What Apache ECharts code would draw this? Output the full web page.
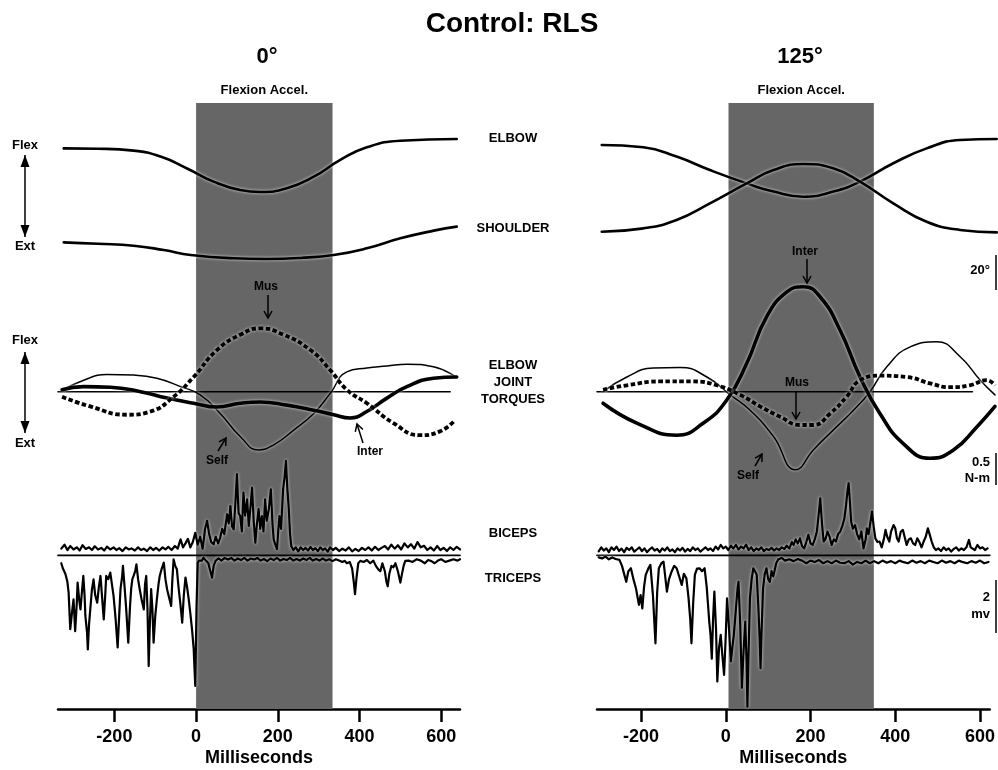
<!DOCTYPE html>
<html>
<head>
<meta charset="utf-8">
<title>Control: RLS</title>
<script src="https://cdn.jsdelivr.net/npm/echarts@6.0.0/dist/echarts.min.js"></script>
<style>
  html, body { margin: 0; padding: 0; background: #fff; }
  #chart { width: 998px; height: 770px; }
</style>
</head>
<body>
<div id="chart"></div>
<script>
// time in ms, angles in deg, torques in N-m, emg in mV
var tickValues = [-200, 0, 200, 400, 600];
var shadeLeft = [0, 334];
var shadeRight = [0, 336];

// 0 deg panel
var leftElbow = [[-324, 69.5], [-240, 69.3], [-153, 68.2], [-87, 64.8], [-22, 58], [43, 50.5], [108, 45.7], [157, 44.6],
  [222, 46.7], [288, 53.3], [353, 62.9], [418, 70.1], [500, 73.9], [638, 74.9]];
var leftShoulder = [[-324, 15.8], [-240, 15], [-153, 13.9], [-79, 11.4], [-13, 8.6], [92, 6.7], [173, 6.3], [255, 6.9],
  [337, 8.6], [418, 12.4], [500, 18.1], [582, 22.5], [638, 24.8]];
var leftMus = [[-328, -0.08], [-259, -0.23], [-169, -0.36], [-112, -0.31], [-55, -0.08], [-6, 0.23], [51, 0.65],
  [108, 0.89], [157, 0.99], [214, 0.89], [280, 0.65], [328, 0.34], [369, 0.03], [418, -0.18], [483, -0.49],
  [548, -0.68], [597, -0.62], [630, -0.47]];
var leftSelf = [[-328, 0.02], [-275, 0.18], [-218, 0.27], [-153, 0.26], [-96, 0.21], [-38, 0.08], [10, -0.05],
  [59, -0.34], [108, -0.7], [153, -0.91], [190, -0.83], [239, -0.6], [288, -0.34], [328, -0.03], [369, 0.31],
  [418, 0.37], [467, 0.4], [516, 0.43], [581, 0.39], [638, 0.22]];
var leftInter = [[-328, 0.03], [-275, 0.08], [-210, 0.07], [-136, 0], [-71, -0.1], [-6, -0.18], [51, -0.24],
  [108, -0.18], [157, -0.16], [222, -0.21], [288, -0.29], [337, -0.36], [377, -0.41], [418, -0.31],
  [467, -0.1], [516, 0.08], [581, 0.21], [638, 0.23]];
var leftBiceps = [[-330, 0.25], [-322, 0.4], [-315, 0.2], [-308, 0.35], [-300, 0.22], [-292, 0.3], [-285, 0.18],
  [-278, 0.38], [-270, 0.24], [-262, 0.3], [-255, 0.2], [-248, 0.34], [-240, 0.22], [-232, 0.28], [-225, 0.18],
  [-218, 0.33], [-210, 0.22], [-202, 0.3], [-195, 0.2], [-188, 0.27], [-180, 0.16], [-172, 0.3], [-165, 0.22],
  [-158, 0.26], [-150, 0.18], [-142, 0.3], [-135, 0.2], [-128, 0.25], [-120, 0.16], [-112, 0.3], [-105, 0.2],
  [-98, 0.28], [-90, 0.18], [-82, 0.3], [-75, 0.22], [-68, 0.32], [-60, 0.2], [-52, 0.35], [-45, 0.25],
  [-38, 0.6], [-32, 0.3], [-26, 0.45], [-20, 0.62], [-14, 0.3], [-8, 0.5], [-2, 0.85], [4, 0.4], [10, 0.7],
  [16, 0.25], [22, 1.0], [27, 1.3], [32, 0.8], [37, 0.5], [43, 0.42], [48, 0.7], [54, 0.45], [59, 0.67],
  [64, 1.0], [69, 0.8], [76, 1.55], [80, 1.2], [84, 1.86], [88, 1.1], [92, 0.98], [96, 1.9], [100, 3.06],
  [104, 1.6], [108, 1.48], [112, 0.9], [116, 2.37], [120, 1.5], [125, 2.11], [129, 1.11], [133, 1.8],
  [137, 2.55], [141, 1.3], [145, 0.48], [149, 1.2], [153, 1.74], [157, 1.0], [161, 1.48], [165, 0.9],
  [169, 2.11], [173, 1.3], [178, 1.74], [183, 2.49], [187, 1.2], [190, 0.6], [194, 0.4], [198, 0.23],
  [201, 0.9], [204, 1.48], [208, 1.0], [213, 2.49], [217, 3.0], [220, 3.56], [223, 2.6], [227, 1.74],
  [230, 0.8], [233, 0.35], [238, 0.2], [244, 0.3], [250, 0.15], [256, 0.3], [262, 0.2], [268, 0.28],
  [274, 0.18], [280, 0.32], [286, 0.2], [292, 0.27], [298, 0.16], [304, 0.3], [310, 0.2], [316, 0.26],
  [322, 0.14], [328, 0.3], [335, 0.2], [342, 0.28], [350, 0.16], [358, 0.25], [366, 0.18], [374, 0.3],
  [382, 0.15], [390, 0.24], [398, 0.16], [406, 0.28], [414, 0.2], [422, 0.3], [430, 0.18], [438, 0.32],
  [446, 0.2], [454, 0.28], [462, 0.35], [470, 0.22], [478, 0.4], [486, 0.25], [494, 0.38], [502, 0.22],
  [510, 0.45], [518, 0.3], [526, 0.42], [534, 0.25], [542, 0.5], [550, 0.3], [558, 0.36], [566, 0.2],
  [574, 0.3], [582, 0.18], [590, 0.35], [598, 0.2], [606, 0.28], [614, 0.16], [622, 0.3], [630, 0.2],
  [638, 0.32], [646, 0.22]];
var leftTriceps = [[-330, -0.3], [-326, -0.5], [-320, -0.7], [-315, -1.0], [-312, -1.41], [-308, -2.79],
  [-304, -2.2], [-300, -1.66], [-296, -2.86], [-292, -1.8], [-290, -1.03], [-286, -1.7], [-283, -2.04],
  [-279, -1.3], [-276, -0.78], [-273, -1.5], [-271, -2.29], [-267, -2.9], [-265, -3.55], [-262, -2.6],
  [-259, -2.04], [-255, -1.3], [-251, -0.91], [-247, -1.5], [-242, -1.79], [-238, -1.2], [-234, -0.78],
  [-230, -1.6], [-226, -2.42], [-222, -1.4], [-220, -0.78], [-215, -0.9], [-210, -0.65], [-206, -1.1],
  [-202, -1.53], [-197, -2.4], [-192, -3.48], [-188, -2.2], [-185, -1.28], [-181, -0.8], [-179, -0.4],
  [-175, -1.2], [-171, -2.04], [-168, -2.8], [-166, -3.3], [-162, -2.0], [-159, -1.28], [-156, -0.9],
  [-153, -0.78], [-149, -0.6], [-146, -0.34], [-142, -0.9], [-138, -1.28], [-133, -1.7], [-128, -2.04],
  [-125, -1.1], [-122, -0.78], [-119, -2.0], [-116, -4.18], [-113, -2.5], [-110, -1.28], [-107, -2.0],
  [-104, -3.3], [-100, -2.3], [-96, -1.66], [-92, -1.1], [-89, -0.78], [-84, -0.5], [-79, -0.28], [-75, -0.9],
  [-71, -1.28], [-66, -1.6], [-61, -1.91], [-58, -0.9], [-55, -0.15], [-51, -0.4], [-47, -0.53], [-43, -1.2],
  [-38, -1.9], [-34, -2.54], [-30, -1.5], [-26, -0.84], [-22, -1.2], [-18, -1.66], [-14, -2.2], [-10, -2.79],
  [-6, -3.5], [-2, -4.93], [1, -2.0], [4, -0.28], [7, -0.2], [10, -0.15], [14, -0.2], [18, -0.09], [24, -0.2],
  [30, -0.3], [35, -0.6], [39, -0.84], [43, -0.4], [48, -0.2], [55, -0.12], [62, -0.2], [70, -0.1], [78, -0.16],
  [86, -0.1], [94, -0.2], [102, -0.12], [110, -0.18], [118, -0.1], [126, -0.2], [134, -0.12], [142, -0.16],
  [150, -0.1], [158, -0.2], [166, -0.14], [174, -0.22], [182, -0.12], [190, -0.18], [198, -0.1], [206, -0.2],
  [214, -0.14], [222, -0.18], [230, -0.1], [238, -0.2], [246, -0.14], [254, -0.2], [262, -0.12], [270, -0.18],
  [278, -0.1], [286, -0.2], [294, -0.14], [302, -0.2], [310, -0.12], [318, -0.2], [326, -0.15], [334, -0.22],
  [342, -0.15], [350, -0.2], [358, -0.25], [364, -0.21], [369, -0.3], [376, -0.25], [382, -0.5], [386, -1.0],
  [389, -1.47], [393, -0.8], [397, -0.3], [402, -0.21], [410, -0.25], [418, -0.18], [426, -0.3], [434, -0.2],
  [440, -0.4], [446, -0.53], [451, -0.6], [456, -0.3], [462, -0.6], [466, -1.0], [469, -1.17], [473, -0.7],
  [478, -0.4], [483, -0.45], [488, -0.3], [494, -0.6], [500, -1.03], [504, -0.7], [508, -0.4], [512, -0.21],
  [520, -0.2], [530, -0.25], [540, -0.15], [550, -0.2], [560, -0.3], [568, -0.18], [576, -0.22], [584, -0.3],
  [592, -0.2], [600, -0.15], [610, -0.25], [620, -0.2], [630, -0.15], [640, -0.2], [646, -0.15]];

// 125 deg panel
var rightElbow = [[-293, 71.4], [-197, 70.1], [-120, 64.8], [-43, 57.1], [42, 49.5], [104, 44.8], [173, 41.9],
  [242, 44.8], [304, 50.5], [381, 61], [458, 69.5], [535, 74.3], [620, 74.9]];
var rightShoulder = [[-293, 21.9], [-197, 23.8], [-120, 28.6], [-43, 38.1], [42, 49.5], [104, 57.1], [173, 60.6],
  [242, 58.1], [304, 50.5], [381, 38.1], [458, 27.6], [535, 22.9], [620, 21.5]];
var rightMus = [[-290, 0.03], [-235, 0.1], [-158, 0.16], [-81, 0.16], [-27, 0.1], [27, -0.05], [73, -0.23],
  [119, -0.39], [165, -0.52], [196, -0.52], [235, -0.34], [273, -0.08], [304, 0.18], [350, 0.25], [412, 0.23],
  [466, 0.13], [512, 0.07], [558, 0.1], [597, 0.18], [616, 0.1]];
var rightSelf = [[-290, 0], [-235, 0.23], [-174, 0.37], [-112, 0.38], [-50, 0.23], [4, -0.05], [50, -0.29],
  [104, -0.7], [155, -1.22], [196, -0.91], [242, -0.6], [289, -0.29], [327, 0], [366, 0.39], [420, 0.7],
  [481, 0.78], [535, 0.55], [582, 0.18], [616, -0.05]];
var rightInter = [[-290, -0.18], [-212, -0.49], [-120, -0.68], [-58, -0.49], [-4, -0.13], [42, 0.44], [88, 1.17],
  [135, 1.56], [173, 1.64], [212, 1.48], [258, 0.96], [304, 0.23], [350, -0.34], [404, -0.81], [466, -1.04],
  [520, -0.91], [574, -0.55], [616, -0.23]];
var rightBiceps = [[-300, 0.15], [-294, 0.3], [-288, 0.18], [-282, 0.26], [-276, 0.12], [-270, 0.3], [-264, 0.2],
  [-258, 0.33], [-252, 0.16], [-246, 0.25], [-240, 0.12], [-234, 0.28], [-228, 0.2], [-222, 0.3], [-216, 0.14],
  [-210, 0.22], [-204, 0.3], [-198, 0.16], [-192, 0.26], [-186, 0.12], [-180, 0.22], [-174, 0.3], [-168, 0.18],
  [-162, 0.24], [-156, 0.12], [-150, 0.26], [-144, 0.18], [-138, 0.3], [-132, 0.16], [-126, 0.22], [-120, 0.12],
  [-114, 0.26], [-108, 0.18], [-102, 0.28], [-96, 0.14], [-90, 0.24], [-84, 0.16], [-78, 0.3], [-72, 0.2],
  [-66, 0.26], [-60, 0.14], [-54, 0.22], [-48, 0.3], [-42, 0.2], [-36, 0.26], [-30, 0.16], [-24, 0.33],
  [-18, 0.22], [-12, 0.39], [-6, 0.26], [0, 0.33], [6, 0.2], [12, 0.36], [18, 0.26], [24, 0.39], [30, 0.22],
  [36, 0.33], [42, 0.26], [48, 0.4], [54, 0.2], [60, 0.3], [66, 0.16], [72, 0.26], [78, 0.2], [84, 0.3],
  [90, 0.16], [96, 0.24], [102, 0.2], [108, 0.28], [114, 0.18], [120, 0.26], [126, 0.2], [132, 0.3], [138, 0.24],
  [144, 0.36], [150, 0.26], [156, 0.5], [160, 0.39], [165, 0.6], [170, 0.45], [175, 0.64], [180, 0.35],
  [185, 0.26], [190, 0.5], [195, 0.77], [200, 0.45], [205, 0.39], [210, 0.6], [215, 0.9], [219, 1.5],
  [223, 2.15], [227, 1.2], [231, 0.52], [235, 0.6], [240, 0.89], [245, 0.7], [250, 0.39], [255, 0.6],
  [260, 0.52], [265, 0.8], [270, 0.89], [275, 1.1], [280, 1.4], [284, 1.9], [287, 2.4], [290, 2.72], [293, 2.0],
  [296, 1.27], [300, 1.0], [305, 1.14], [310, 0.8], [315, 0.6], [320, 0.9], [325, 0.26], [330, 0.6], [333, 1.02],
  [337, 0.8], [341, 1.2], [345, 1.65], [349, 1.1], [353, 0.64], [358, 0.5], [363, 0.52], [368, 0.3], [373, 0.6],
  [377, 0.96], [381, 0.7], [386, 0.52], [390, 0.89], [396, 1.14], [400, 1.02], [404, 0.64], [408, 0.52],
  [413, 0.89], [418, 0.96], [422, 0.7], [427, 0.39], [432, 0.6], [437, 0.64], [442, 0.45], [447, 0.39],
  [452, 0.64], [457, 0.5], [462, 0.3], [467, 0.52], [472, 0.7], [477, 1.02], [481, 0.8], [486, 0.52], [491, 0.3],
  [496, 0.2], [502, 0.26], [508, 0.16], [514, 0.3], [520, 0.2], [526, 0.26], [532, 0.14], [538, 0.24], [544, 0.3],
  [550, 0.18], [556, 0.26], [562, 0.2], [568, 0.3], [574, 0.58], [578, 0.3], [582, 0.26], [588, 0.2], [594, 0.39],
  [600, 0.26], [606, 0.3], [612, 0.2], [618, 0.26]];
var rightTriceps = [[-300, -0.08], [-292, -0.12], [-284, -0.05], [-276, -0.15], [-268, -0.08], [-260, -0.14],
  [-251, -0.17], [-245, -0.4], [-240, -0.7], [-235, -1.0], [-230, -0.6], [-224, -0.49], [-218, -0.9], [-212, -1.25],
  [-208, -1.6], [-205, -1.87], [-201, -1.5], [-197, -2.0], [-193, -1.2], [-189, -0.74], [-183, -0.5], [-178, -0.36],
  [-172, -1.5], [-166, -3.32], [-162, -1.4], [-158, -0.49], [-152, -0.3], [-147, -0.24], [-143, -0.8],
  [-139, -1.37], [-134, -0.9], [-128, -0.62], [-122, -0.4], [-116, -0.49], [-110, -0.8], [-104, -1.12],
  [-99, -0.7], [-93, -0.87], [-88, -1.6], [-84, -2.4], [-81, -3.32], [-77, -1.8], [-73, -0.74], [-68, -0.5],
  [-62, -0.49], [-56, -0.6], [-50, -0.49], [-45, -1.2], [-39, -2.5], [-36, -3.0], [-33, -3.9], [-30, -2.4],
  [-27, -1.37], [-23, -2.8], [-20, -4.76], [-16, -3.5], [-12, -3.0], [-8, -3.8], [-4, -4.51], [0, -3.0],
  [3, -1.62], [7, -2.6], [12, -4.0], [16, -3.4], [19, -3.0], [24, -2.0], [28, -1.2], [30, -1.0], [34, -2.6],
  [38, -5.0], [42, -3.6], [46, -2.5], [49, -4.0], [51, -5.71], [54, -3.5], [57, -1.62], [61, -0.9], [65, -0.49],
  [69, -0.6], [73, -0.74], [77, -2.0], [80, -3.2], [82, -4.26], [85, -2.6], [88, -1.25], [92, -0.7], [96, -0.49],
  [100, -0.9], [104, -1.0], [108, -0.6], [112, -0.8], [115, -0.74], [119, -0.3], [124, -0.15], [132, -0.1],
  [140, -0.2], [150, -0.15], [160, -0.22], [170, -0.14], [180, -0.2], [190, -0.3], [200, -0.2], [210, -0.25],
  [220, -0.18], [230, -0.3], [240, -0.22], [250, -0.3], [260, -0.2], [270, -0.28], [280, -0.3], [290, -0.22],
  [300, -0.35], [310, -0.25], [320, -0.3], [330, -0.2], [340, -0.3], [350, -0.22], [360, -0.3], [370, -0.2],
  [380, -0.28], [390, -0.22], [400, -0.3], [410, -0.2], [420, -0.26], [430, -0.3], [440, -0.2], [450, -0.28],
  [460, -0.22], [470, -0.3], [480, -0.2], [490, -0.25], [500, -0.3], [510, -0.2], [520, -0.28], [530, -0.22],
  [540, -0.3], [550, -0.2], [560, -0.26], [570, -0.3], [580, -0.22], [590, -0.28], [600, -0.2], [610, -0.3],
  [620, -0.25]];

var FONT = '"Liberation Sans", Arial, Helvetica, sans-serif';

var panels = [
  {left: 58, width: 402, xMin: -338, xMax: 646, zeroEnd: 622, shade: shadeLeft,
    elbow: leftElbow, shoulder: leftShoulder, mus: leftMus, self: leftSelf, inter: leftInter,
    biceps: leftBiceps, triceps: leftTriceps},
  {left: 597, width: 401, xMin: -304, xMax: 623, zeroEnd: 564, shade: shadeRight,
    elbow: rightElbow, shoulder: rightShoulder, mus: rightMus, self: rightSelf, inter: rightInter,
    biceps: rightBiceps, triceps: rightTriceps}
];
// rows: shading, angles (1.75 px/deg), torques (64 px/N-m), emg (26.5 px/mV)
var rows = [
  {top: 103, height: 606, min: 0, max: 1},
  {top: 100, height: 170, min: 0, max: 170 / 1.75},
  {top: 276.5, height: 204.8, min: -1.4, max: 1.8},
  {top: 454.6, height: 254.4, min: -5.8, max: 3.8}
];

var grid = [], xAxis = [], yAxis = [], series = [];
var halo = {shadowColor: 'rgba(255,255,255,0.8)', shadowBlur: 3};

function line(idx, data, width, extra) {
  var ls = Object.assign({color: '#000', width: width, cap: 'round', join: 'round'}, halo, extra || {});
  return {
    type: 'line', xAxisIndex: idx, yAxisIndex: idx, data: data,
    showSymbol: false, symbol: 'none', silent: true, animation: false, z: 3,
    smooth: ls.smooth || false, lineStyle: ls
  };
}

panels.forEach(function (p, pi) {
  rows.forEach(function (r, ri) {
    var idx = pi * 4 + ri;
    grid.push({left: p.left, width: p.width, top: r.top, height: r.height});
    var isBottom = ri === 3;
    xAxis.push({
      type: 'value', gridIndex: idx, min: p.xMin, max: p.xMax, show: isBottom,
      splitLine: {show: false},
      axisLine: {show: true, onZero: false, lineStyle: {color: '#000', width: 2.5}},
      axisTick: {show: true, inside: false, length: 13, customValues: tickValues, lineStyle: {color: '#000', width: 2.5}},
      axisLabel: {show: true, margin: 19, customValues: tickValues, color: '#000',
        fontFamily: FONT, fontWeight: 'bold', fontSize: 18},
      name: isBottom ? 'Milliseconds' : '', nameLocation: 'middle', nameGap: 40,
      nameTextStyle: {color: '#000', fontFamily: FONT, fontWeight: 'bold', fontSize: 18}
    });
    yAxis.push({type: 'value', gridIndex: idx, min: r.min, max: r.max, show: false, splitLine: {show: false}});
  });

  var b = pi * 4;
  // shaded acceleration window
  series.push({
    type: 'line', xAxisIndex: b, yAxisIndex: b, data: [[p.shade[0], 0]], symbol: 'none',
    lineStyle: {opacity: 0}, silent: true, animation: false, z: 1,
    markArea: {
      silent: true,
      itemStyle: {color: '#666666'},
      label: {show: true, position: 'top', distance: 6, color: '#000', fontFamily: FONT,
        fontWeight: 'bold', fontSize: 13, formatter: 'Flexion Accel.'},
      data: [[{xAxis: p.shade[0]}, {xAxis: p.shade[1]}]]
    }
  });
  // joint angles
  series.push(line(b + 1, p.elbow, 2.6, {smooth: 0.5}));
  series.push(line(b + 1, p.shoulder, 2.6, {smooth: 0.5}));
  // torques
  series.push(line(b + 2, [[p.xMin, 0], [p.zeroEnd, 0]], 1.5, {shadowBlur: 0}));
  series.push(line(b + 2, p.self, 1.5, {smooth: 0.5}));
  series.push(line(b + 2, p.inter, 3.6, {smooth: 0.5}));
  series.push(line(b + 2, p.mus, 3.8, {smooth: 0.5, type: [4.5, 2.5], cap: 'butt'}));
  // emg
  series.push(line(b + 3, [[p.xMin, 0], [p.xMax, 0]], 1.8, {shadowBlur: 0}));
  series.push(line(b + 3, p.triceps, 2.2));
  series.push(line(b + 3, p.biceps, 2.2));
});

function txt(x, y, s, size, align) {
  return {
    type: 'text', x: x, y: y, z: 10, silent: true,
    style: {text: s, fill: '#000', font: 'bold ' + size + 'px ' + FONT,
      align: align || 'center', textAlign: align || 'center',
      verticalAlign: 'middle', textVerticalAlign: 'middle'}
  };
}
function head(tx, ty, fx, fy, len, wid, open) {
  var a = Math.atan2(ty - fy, tx - fx), c = Math.cos(a), s = Math.sin(a);
  var p1 = [tx - len * c + wid * s, ty - len * s - wid * c];
  var p2 = [tx - len * c - wid * s, ty - len * s + wid * c];
  if (open) {
    return {type: 'polyline', z: 10, silent: true, shape: {points: [p1, [tx, ty], p2]},
      style: {stroke: '#000', lineWidth: 1.5, fill: null}};
  }
  return {type: 'polygon', z: 10, silent: true, shape: {points: [[tx, ty], p1, p2]}, style: {fill: '#000'}};
}
function arrow(x1, y1, x2, y2, both) {
  var els = [{type: 'line', z: 10, silent: true, shape: {x1: x1, y1: y1, x2: x2, y2: y2},
    style: {stroke: '#000', lineWidth: 1.5}}];
  if (both) {
    els.push(head(x1, y1, x2, y2, 12, 4.5, false));
    els.push(head(x2, y2, x1, y1, 12, 4.5, false));
  } else {
    els.push(head(x2, y2, x1, y1, 7, 4, true));
  }
  return els;
}
function bar(x, y1, y2) {
  return {type: 'line', z: 10, silent: true, shape: {x1: x, y1: y1, x2: x, y2: y2},
    style: {stroke: '#000', lineWidth: 1.5}};
}

var graphic = [
  txt(512, 24, 'Control: RLS', 28),
  txt(267, 57, '0°', 22),
  txt(800, 57, '125°', 22),
  txt(513, 138, 'ELBOW', 13),
  txt(513, 228, 'SHOULDER', 13),
  txt(513, 365, 'ELBOW', 13),
  txt(513, 382, 'JOINT', 13),
  txt(513, 399, 'TORQUES', 13),
  txt(513, 533, 'BICEPS', 13),
  txt(513, 578, 'TRICEPS', 13),
  txt(25, 145, 'Flex', 13),
  txt(25, 246, 'Ext', 13),
  txt(25, 340, 'Flex', 13),
  txt(25, 443, 'Ext', 13),
  txt(266, 287, 'Mus', 12),
  txt(217, 461, 'Self', 12),
  txt(370, 452, 'Inter', 12),
  txt(805, 252, 'Inter', 12),
  txt(797, 383, 'Mus', 12),
  txt(748, 476, 'Self', 12),
  txt(990, 270, '20°', 13, 'right'),
  txt(990, 462, '0.5', 13, 'right'),
  txt(990, 478, 'N-m', 13, 'right'),
  txt(990, 597, '2', 13, 'right'),
  txt(990, 614, 'mv', 13, 'right'),
  bar(996, 255, 290),
  bar(996, 453, 485),
  bar(996, 580, 633)
].concat(
  arrow(25, 155, 25, 237, true),
  arrow(25, 352, 25, 433, true),
  arrow(268, 295, 268, 318),
  arrow(218, 451, 226, 438),
  arrow(363, 443, 357, 424),
  arrow(807, 259, 807, 283),
  arrow(796, 391, 796, 419),
  arrow(755, 466, 762, 454)
);

var chart = echarts.init(document.getElementById('chart'), null, {renderer: 'canvas'});
chart.setOption({
  animation: false,
  backgroundColor: '#fff',
  grid: grid,
  xAxis: xAxis,
  yAxis: yAxis,
  series: series,
  graphic: graphic
});
window.addEventListener('resize', function () {
  chart.resize();
});
</script>
</body>
</html>
